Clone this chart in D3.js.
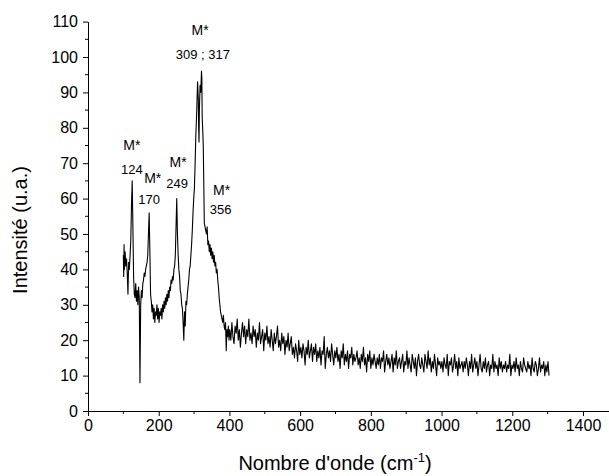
<!DOCTYPE html>
<html><head><meta charset="utf-8">
<script src="https://cdn.jsdelivr.net/npm/d3@7"></script>
<style>body{margin:0;background:#fff}svg{display:block}</style>
</head><body><svg id="c" width="609" height="476"></svg>
<script>
// ---- data ----
const peakWavenumbers = [100,101,102,103,105,107,109,111,113,115,117,119,121,123,125,127,129,131,133,135,137,139,141,143,145,147,149,151,153,155,157,159,161,163,165,167,169,171,173,175,177,179,181,183,185,187,189,191,193,195,197,199,201,203,205,207,209,211,213,215,217,219,221,223,225,227,229,231,233,235,237,239,241,243,245,247,249,251,253,255,257,259,261,263,265,267,269,271,273,275,277,279,281,283,285,287,289,291,293,295,297,299,301,303,305,307,309,310,312,313,314,315,317,319,321,322,323,325,326,327,329,331,333,335,337,339,341,343,345,347,349,351,353,355,357,359,361,363,365,367,369,371,373,375,377,379,381,383,385,387,389,391,393,395,397,399];
const peakIntensities = [44,38,47,40,45,41,43,39,33,42,40,44,48,58,65,52,38,33,32,36,31,34,30,35,32,8,30,34,32,36,37,39,38,40,41,42,44,50,56,45,33,31,28,30,26,29,25,28,27,30,26,29,25,28,27,29,26,30,28,31,29,32,30,33,31,34,32,35,34,37,36,38,37,40,41,44,52,60,50,44,40,38,34,33,30,29,25,20,28,24,31,30,33,35,37,40,41,44,47,51,56,60,63,70,78,83,90,93,88,80,76,85,92,90,96,94,83,78,75,68,53,52,51,50,52,47,48,45,47,44,46,43,45,42,44,41,42,39,40,37,35,32,30,28,27,26,25,27,24,23,25,17,23,21,24,20];
const tailWavenumbers = [
 401,404,407,410,413,416,419,422,425,428,431,434,437,440,443,446,449,452,455,458,
 461,464,467,470,473,476,479,482,485,488,491,494,497,500,503,506,509,512,515,518,
 521,524,527,530,533,536,539,542,545,548,551,554,557,560,563,566,569,572,575,578,
 581,584,587,590,593,596,599,602,605,608,611,614,617,620,623,626,629,632,635,638,
 641,644,647,650,653,656,659,662,665,668,671,674,677,680,683,686,689,692,695,698,
 701,704,707,710,713,716,719,722,725,728,731,734,737,740,743,746,749,752,755,758,
 761,764,767,770,773,776,779,782,785,788,791,794,797,800,803,806,809,812,815,818,
 821,824,827,830,833,836,839,842,845,848,851,854,857,860,863,866,869,872,875,878,
 881,884,887,890,893,896,899,902,905,908,911,914,917,920,923,926,929,932,935,938,
 941,944,947,950,953,956,959,962,965,968,971,974,977,980,983,986,989,992,995,998,
 1001,1004,1007,1010,1013,1016,1019,1022,1025,1028,1031,1034,1037,1040,1043,1046,1049,1052,1055,1058,
 1061,1064,1067,1070,1073,1076,1079,1082,1085,1088,1091,1094,1097,1100,1103,1106,1109,1112,1115,1118,
 1121,1124,1127,1130,1133,1136,1139,1142,1145,1148,1151,1154,1157,1160,1163,1166,1169,1172,1175,1178,
 1181,1184,1187,1190,1193,1196,1199,1202,1205,1208,1211,1214,1217,1220,1223,1226,1229,1232,1235,1238,
 1241,1244,1247,1250,1253,1256,1259,1262,1265,1268,1271,1274,1277,1280,1283,1286,1289,1292,1295,1298,
 1301,1304];
const tailIntensities = [
 23,20,25,21,19,24,22,26,20,23,18,22,25,21,24,19,23,21,26,20,
 22,19,24,21,23,18,22,20,25,19,21,23,17,22,20,24,19,21,18,23,
 20,17,22,19,21,24,18,20,17,22,19,21,16,20,18,22,17,19,21,16,
 18,15,19,17,14,20,16,18,15,19,17,13,18,16,20,15,17,19,14,18,
 16,19,14,17,15,18,13,17,16,21,12,16,18,15,17,14,19,16,13,17,
 15,18,14,16,12,17,15,19,13,16,14,17,12,16,15,18,13,16,14,15,
 17,13,15,12,16,14,18,13,15,11,16,14,17,12,15,13,16,14,12,15,
 13,16,12,15,14,17,11,14,16,13,15,12,14,16,11,15,13,17,12,14,
 15,12,14,16,11,14,13,17,12,15,13,11,16,14,12,15,10,14,16,13,
 12,15,13,11,16,14,12,17,13,15,11,14,12,16,13,10,15,13,14,12,
 14,11,15,13,12,16,10,14,13,15,11,13,16,12,14,10,15,12,13,14,
 11,14,12,15,13,10,14,12,16,11,13,15,12,14,10,13,16,12,11,14,
 12,15,11,13,14,10,13,12,16,11,14,12,13,10,15,12,14,11,13,12,
 14,11,13,12,16,10,13,12,14,11,15,12,13,10,14,12,11,15,13,12,
 11,14,12,13,10,15,12,11,14,13,10,12,15,11,13,12,14,10,13,11,
 14,10];
const xTickValues = [0,200,400,600,800,1000,1200,1400];
const xMinorTicks = [100,300,500,700,900,1100,1300];
const yTickValues = [0,10,20,30,40,50,60,70,80,90,100,110];
const yMinorTicks = [5,15,25,35,45,55,65,75,85,95,105];
const annotationLabels = ["124","170","249","309 ; 317","356"];
const annotationStarX = [124,183,255,317,378];
const annotationStarY = [75.1,65.7,70.4,107.6,62.4];
const annotationNumX = [124,173,252,325,375];
const annotationNumY = [68.1,59.8,64.3,100.6,56.8];

// ---- drawing ----
const svg = d3.select("#c");
const font = "'Liberation Sans', Arial, sans-serif";
const x = d3.scaleLinear().domain([0,1475]).range([88,609.5]);
const y = d3.scaleLinear().domain([0,110]).range([411,21.6]);

const pts = peakWavenumbers.map((v,i)=>[v,peakIntensities[i]])
  .concat(tailWavenumbers.map((v,i)=>[v,tailIntensities[i]]));

svg.append("path").datum(pts)
  .attr("fill","none").attr("stroke","#000").attr("stroke-width",1.1)
  .attr("stroke-linejoin","round")
  .attr("d", d3.line().x(d=>x(d[0])).y(d=>y(d[1])));

// axes
const gx = svg.append("g").attr("transform",`translate(0,${y(0)})`)
  .call(d3.axisBottom(x).tickValues(xTickValues).tickFormat(d3.format("d"))
    .tickSize(5).tickSizeOuter(0).tickPadding(4));
gx.append("g").selectAll("line").data(xMinorTicks).join("line")
  .attr("x1",d=>x(d)).attr("x2",d=>x(d)).attr("y1",0).attr("y2",3).attr("stroke","#000");
const gy = svg.append("g").attr("transform",`translate(${x(0)},0)`)
  .call(d3.axisLeft(y).tickValues(yTickValues).tickFormat(d3.format("d"))
    .tickSize(5).tickSizeOuter(0).tickPadding(5));
gy.append("g").selectAll("line").data(yMinorTicks).join("line")
  .attr("y1",d=>y(d)).attr("y2",d=>y(d)).attr("x1",0).attr("x2",-3).attr("stroke","#000");
[gx,gy].forEach(g=>{
  g.selectAll("text").attr("font-family",font).attr("font-size",16).attr("fill","#000");
  g.selectAll("line,path").attr("stroke","#000");
});

// axis titles
svg.append("text").attr("x",335).attr("y",470).attr("text-anchor","middle")
  .attr("font-family",font).attr("font-size",20)
  .html("Nombre d'onde (cm<tspan dy='-8' font-size='13'>-1</tspan><tspan dy='8'>)</tspan>");
svg.append("text").attr("transform","translate(27,230) rotate(-90)").attr("text-anchor","middle")
  .attr("font-family",font).attr("font-size",20).text("Intensité (u.a.)");

// annotations
annotationLabels.forEach((lab,i)=>{
  svg.append("text").attr("x",x(annotationStarX[i])).attr("y",y(annotationStarY[i]))
    .attr("dy","0.35em").attr("text-anchor","middle")
    .attr("font-family",font).attr("font-size",14).text("M*");
  svg.append("text").attr("x",x(annotationNumX[i])).attr("y",y(annotationNumY[i]))
    .attr("dy","0.35em").attr("text-anchor","middle")
    .attr("font-family",font).attr("font-size",13).text(lab);
});
</script></body></html>
